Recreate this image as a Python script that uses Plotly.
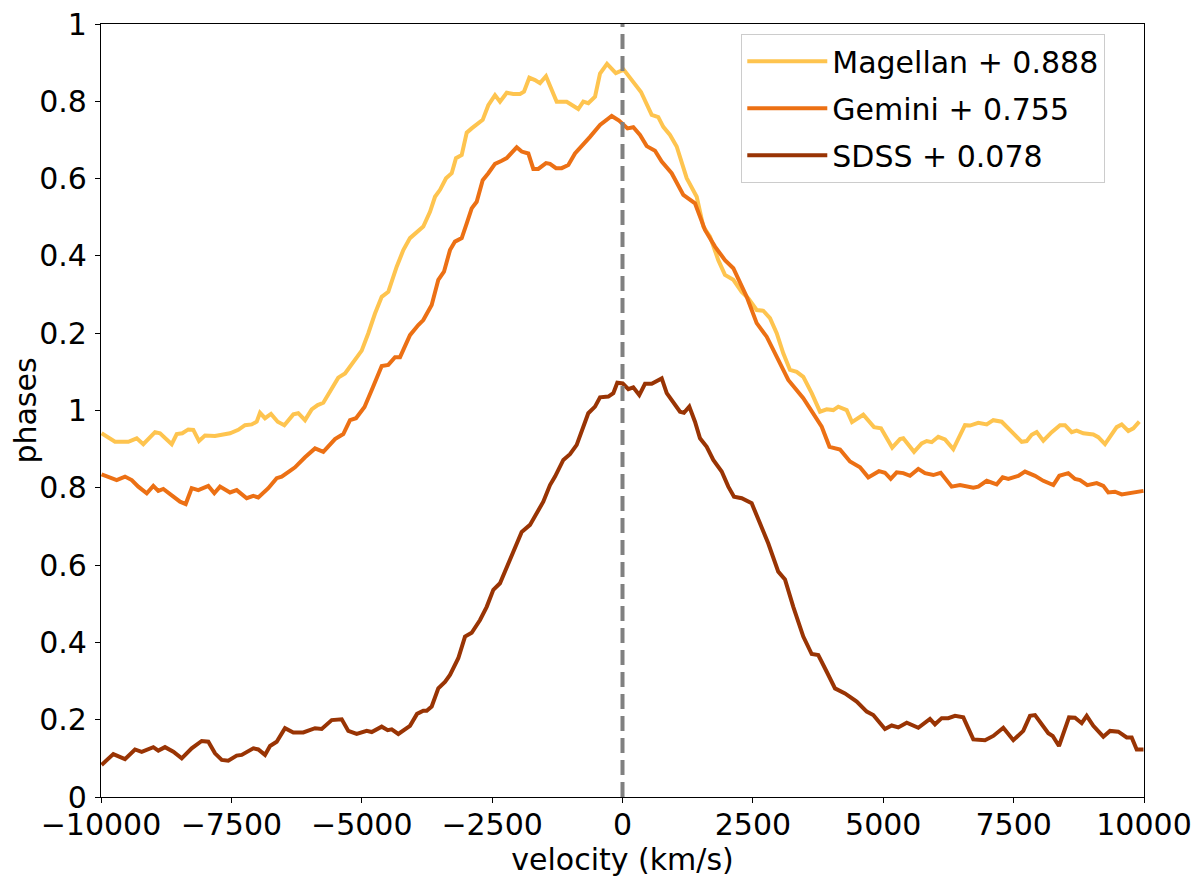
import plotly.graph_objects as go

# ---------------- data ----------------
series_names = ["Magellan + 0.888", "Gemini + 0.755", "SDSS + 0.078"]
series_colors = ["#fec44f", "#ec7014", "#993404"]

mag_v = [-9990,-9731,-9476,-9315,-9189,-8964,-8868,-8644,-8548,-8441,
         -8326,-8230,-8121,-8006,-7814,-7685,-7526,-7367,-7239,-7110,
         -7014,-6951,-6855,-6740,-6612,-6485,-6312,-6217,-6088,-5960,
         -5845,-5737,-5641,-5450,-5321,-5193,-5001,-4874,-4746,-4617,
         -4491,-4330,-4203,-4075,-3946,-3820,-3691,-3595,-3499,-3384,
         -3275,-3193,-3083,-2987,-2892,-2681,-2573,-2445,-2349,-2220,
         -2094,-1965,-1889,-1787,-1678,-1582,-1467,-1262,-1070,-974,
         -848,-752,-656,-527,-431,-297,-128,23,207,355,
         560,686,782,911,1039,1231,1423,1549,1678,1837,
         1965,2125,2286,2412,2573,2700,2828,2957,3083,3212,
         3340,3467,3628,3787,3916,4042,4138,4299,4401,4617,
         4823,4957,5172,5321,5384,5590,5737,5833,5929,6055,
         6184,6343,6567,6663,6822,6984,7110,7271,7494,7655,
         7751,7846,7942,8069,8230,8389,8485,8613,8709,8836,
         9028,9123,9252,9348,9476,9572,9699,9795,9910]
mag_y = [0.941,0.919,0.919,0.928,0.913,0.944,0.941,0.913,0.939,0.941,
         0.951,0.950,0.921,0.935,0.934,0.938,0.941,0.950,0.962,0.964,
         0.971,0.994,0.980,0.991,0.971,0.962,0.990,0.993,0.975,1.003,
         1.014,1.020,1.043,1.085,1.096,1.118,1.155,1.200,1.251,1.294,
         1.307,1.372,1.415,1.446,1.463,1.476,1.514,1.553,1.571,1.601,
         1.614,1.653,1.661,1.719,1.730,1.752,1.790,1.816,1.799,1.822,
         1.819,1.819,1.825,1.861,1.855,1.847,1.865,1.799,1.799,1.790,
         1.780,1.799,1.795,1.812,1.872,1.897,1.873,1.882,1.849,1.824,
         1.765,1.759,1.734,1.713,1.683,1.601,1.553,1.476,1.450,1.389,
         1.351,1.338,1.307,1.290,1.260,1.258,1.239,1.200,1.148,1.105,
         1.100,1.087,1.045,0.997,1.003,1.001,1.010,1.001,0.970,0.989,
         0.957,0.954,0.904,0.926,0.928,0.893,0.915,0.921,0.918,0.932,
         0.925,0.900,0.962,0.961,0.968,0.964,0.975,0.971,0.941,0.919,
         0.921,0.937,0.944,0.922,0.944,0.962,0.962,0.944,0.948,0.941,
         0.938,0.931,0.913,0.931,0.957,0.964,0.947,0.954,0.971]

gem_v = [-9990,-9860,-9699,-9540,-9411,-9285,-9123,-8997,-8901,-8805,
         -8644,-8485,-8376,-8261,-8134,-7942,-7827,-7718,-7526,-7398,
         -7206,-7079,-6984,-6792,-6631,-6535,-6376,-6280,-6088,-5896,
         -5737,-5513,-5354,-5225,-5110,-4947,-4784,-4617,-4491,-4362,
         -4266,-4075,-3916,-3820,-3659,-3532,-3423,-3308,-3212,-3083,
         -2987,-2892,-2796,-2681,-2573,-2445,-2316,-2220,-2029,-1933,
         -1806,-1710,-1615,-1467,-1390,-1275,-1166,-1039,-911,-752,
         -623,-431,-207,-67,96,207,336,464,623,752,
         943,1166,1390,1582,1774,1965,2125,2382,2573,2765,
         2957,3179,3467,3659,3820,3969,4171,4362,4554,4713,
         4918,5033,5143,5258,5384,5513,5672,5800,5960,6101,
         6312,6472,6727,6822,6984,7175,7290,7398,7589,7718,
         7910,8069,8261,8376,8548,8677,8773,8913,9093,9220,
         9315,9444,9572,9990]
gem_y = [0.835,0.829,0.820,0.829,0.820,0.803,0.786,0.805,0.792,0.797,
         0.779,0.764,0.758,0.799,0.794,0.805,0.786,0.803,0.788,0.794,
         0.773,0.779,0.775,0.799,0.825,0.829,0.844,0.853,0.879,0.902,
         0.893,0.926,0.939,0.975,0.980,1.009,1.061,1.115,1.118,1.138,
         1.138,1.195,1.221,1.234,1.273,1.338,1.359,1.415,1.437,1.446,
         1.484,1.523,1.540,1.596,1.614,1.638,1.646,1.653,1.681,1.670,
         1.665,1.625,1.625,1.640,1.638,1.627,1.627,1.635,1.665,1.687,
         1.708,1.739,1.762,1.750,1.730,1.733,1.713,1.684,1.672,1.644,
         1.614,1.558,1.536,1.467,1.424,1.389,1.368,1.294,1.226,1.191,
         1.139,1.079,1.032,0.993,0.958,0.906,0.899,0.868,0.853,0.827,
         0.843,0.839,0.823,0.840,0.838,0.831,0.849,0.838,0.833,0.839,
         0.803,0.807,0.800,0.803,0.818,0.809,0.827,0.823,0.831,0.842,
         0.831,0.818,0.807,0.831,0.838,0.823,0.820,0.807,0.812,0.805,
         0.788,0.790,0.783,0.792]

sdss_v = [-9990,-9764,-9540,-9348,-9220,-8997,-8901,-8773,-8613,-8452,
          -8261,-8069,-7942,-7814,-7685,-7559,-7398,-7302,-7079,-6984,
          -6855,-6759,-6631,-6472,-6312,-6121,-5896,-5768,-5576,-5384,
          -5258,-5097,-4905,-4809,-4617,-4502,-4426,-4299,-4075,-3940,
          -3820,-3754,-3659,-3532,-3404,-3308,-3149,-3020,-2892,-2732,
          -2604,-2477,-2349,-2220,-2094,-1933,-1774,-1645,-1519,-1390,
          -1294,-1135,-1007,-878,-752,-656,-527,-431,-272,-176,
          -100,4,111,207,322,431,560,752,848,974,
          1103,1179,1281,1390,1486,1615,1741,1902,2029,2138,
          2286,2477,2637,2796,2987,3116,3275,3467,3628,3754,
          3916,4075,4266,4491,4683,4809,5033,5162,5288,5450,
          5672,5896,5992,6121,6247,6376,6535,6727,6951,7110,
          7302,7494,7685,7814,7910,8165,8249,8370,8562,8677,
          8805,8901,9028,9220,9348,9507,9668,9764,9860,9990]
sdss_y = [0.083,0.111,0.098,0.123,0.117,0.129,0.120,0.129,0.117,0.100,
          0.126,0.145,0.143,0.113,0.096,0.094,0.107,0.109,0.126,0.123,
          0.109,0.132,0.143,0.178,0.167,0.167,0.178,0.176,0.199,0.201,
          0.171,0.163,0.171,0.168,0.182,0.173,0.175,0.163,0.184,0.215,
          0.223,0.223,0.234,0.281,0.298,0.316,0.359,0.415,0.425,0.458,
          0.492,0.536,0.553,0.596,0.639,0.686,0.704,0.734,0.764,0.807,
          0.829,0.872,0.887,0.911,0.962,0.993,1.010,1.034,1.036,1.045,
          1.072,1.070,1.055,1.060,1.040,1.069,1.069,1.083,1.045,1.019,
          0.997,0.994,1.010,0.971,0.928,0.906,0.872,0.842,0.803,0.777,
          0.773,0.760,0.708,0.656,0.583,0.563,0.492,0.415,0.370,0.367,
          0.324,0.281,0.268,0.247,0.221,0.212,0.176,0.185,0.180,0.192,
          0.179,0.202,0.188,0.204,0.204,0.210,0.206,0.149,0.147,0.158,
          0.179,0.147,0.171,0.210,0.212,0.165,0.158,0.132,0.206,0.205,
          0.191,0.210,0.184,0.156,0.171,0.169,0.154,0.154,0.123,0.123]

x_tickvals = [-10000, -7500, -5000, -2500, 0, 2500, 5000, 7500, 10000]
x_ticktext = ["\u221210000", "\u22127500", "\u22125000", "\u22122500", "0",
              "2500", "5000", "7500", "10000"]
y_tickvals = [0, 0.2, 0.4, 0.6, 0.8, 1.0, 1.2, 1.4, 1.6, 1.8, 2.0]
y_ticktext = ["0", "0.2", "0.4", "0.6", "0.8", "1", "0.2", "0.4", "0.6", "0.8", "1"]

# ---------------- figure ----------------
FONT = "DejaVu Sans"
fig = go.Figure()
all_v = [mag_v, gem_v, sdss_v]
all_y = [mag_y, gem_y, sdss_y]
for i, (name, col, vv, yy) in enumerate(zip(series_names, series_colors, all_v, all_y)):
    assert len(vv) == len(yy), name
    fig.add_trace(go.Scatter(x=vv, y=yy, mode="lines", name=name,
                             legendgroup=f"g{i}",
                             line=dict(color=col, width=4)))

fig.add_shape(type="line", xref="x", yref="paper", x0=0, x1=0, y0=0, y1=1,
              line=dict(color="#808080", width=4, dash="15px,7px"), layer="above")

axis_common = dict(showline=True, linecolor="black", linewidth=1.3, mirror=True,
                   ticks="outside", ticklen=5, tickwidth=1.3, tickcolor="black",
                   showgrid=False, zeroline=False, automargin=False,
                   ticklabeloverflow="allow",
                   tickfont=dict(family=FONT, size=30, color="black"))

# the page adds an 8px body margin, so margins are reduced by 8px on left/top
fig.update_layout(
    width=1200, height=883,
    margin=dict(l=93, r=64, t=16, b=94),
    paper_bgcolor="white", plot_bgcolor="white",
    font=dict(family=FONT, size=30, color="black"),
    xaxis=dict(range=[-10000, 10000], tickvals=x_tickvals, ticktext=x_ticktext,
               title=dict(text="velocity (km/s)", standoff=4,
                          font=dict(family=FONT, size=30)),
               ticklabelstandoff=-4, **axis_common),
    yaxis=dict(range=[0, 2], tickvals=y_tickvals, ticktext=y_ticktext,
               title=dict(text="phases", standoff=6,
                          font=dict(family=FONT, size=30)),
               ticklabelstandoff=2, **axis_common),
    legend=dict(x=0.6136, y=0.987, xanchor="left", yanchor="top",
                bgcolor="rgba(255,255,255,0.8)", bordercolor="#cccccc",
                borderwidth=1.3, font=dict(family=FONT, size=30),
                traceorder="grouped", tracegroupgap=5, itemwidth=80),
    showlegend=True,
)

fig.write_html("out.html")
